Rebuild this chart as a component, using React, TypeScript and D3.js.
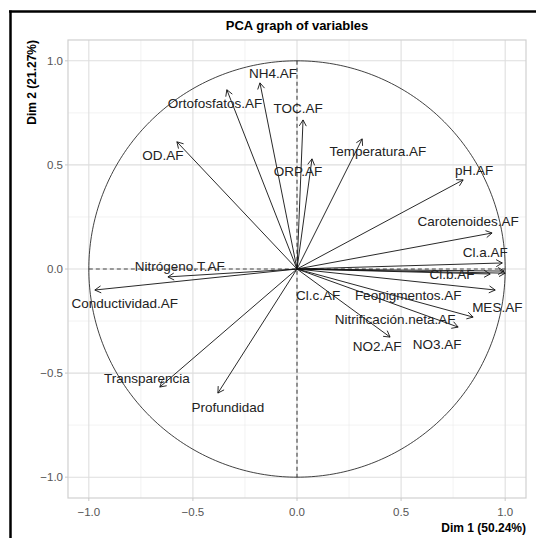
import React from 'react'
import * as d3 from 'd3'

// variable coordinates on Dim 1 / Dim 2
const variables = [
  'NH4.AF', 'Ortofosfatos.AF', 'TOC.AF', 'OD.AF', 'ORP.AF', 'Temperatura.AF',
  'pH.AF', 'Carotenoides.AF', 'Cl.a.AF', 'Cl.b.AF', 'Cl.c.AF', 'Feopigmentos.AF',
  'MES.AF', 'Nitrificación.neta.AF', 'NO2.AF', 'NO3.AF', 'Conductividad.AF',
  'Nitrógeno.T.AF', 'Transparencia', 'Profundidad',
]
const dim1 = [-0.178, -0.337, 0.029, -0.577, 0.072, 0.313, 0.798, 0.937, 0.986, 0.928, 0.995, 1.0, 0.952, 0.846, 0.447, 0.774, -0.971, -0.62, -0.659, -0.38]
const dim2 = [0.894, 0.861, 0.716, 0.611, 0.529, 0.625, 0.428, 0.173, 0.029, -0.024, -0.01, -0.02, -0.101, -0.231, -0.327, -0.279, -0.101, -0.038, -0.567, -0.596]
// repelled label centres
const labelX = [-0.115, -0.394, 0.005, -0.644, 0.005, 0.389, 0.851, 0.822, 0.904, 0.745, 0.101, 0.534, 0.962, 0.471, 0.385, 0.673, -0.827, -0.563, -0.721, -0.332]
const labelY = [0.942, 0.798, 0.774, 0.548, 0.471, 0.567, 0.476, 0.231, 0.082, -0.024, -0.125, -0.125, -0.183, -0.24, -0.37, -0.361, -0.163, 0.014, -0.524, -0.663]

const majorTicks = [-1.0, -0.5, 0.0, 0.5, 1.0]
const minorTicks = [-0.75, -0.25, 0.25, 0.75]

export default function App() {
  const W = 536
  const H = 538
  const left = 68, right = 526, top = 40, bottom = 498

  const x = d3.scaleLinear().domain([-1.1, 1.1]).range([left, right])
  const y = d3.scaleLinear().domain([-1.1, 1.1]).range([bottom, top])

  const circle = d3.line<number>()
    .x(a => x(Math.cos(a)))
    .y(a => y(Math.sin(a)))
  const angles = d3.range(0, 361).map(d => (d * Math.PI) / 180)

  const font = '"Liberation Sans", Arial, sans-serif'
  const ox = x(0), oy = y(0)

  const arrowHead = (tx: number, ty: number) => {
    const th = Math.atan2(ty - oy, tx - ox)
    const len = 7
    const a1 = th + Math.PI - Math.PI / 6
    const a2 = th + Math.PI + Math.PI / 6
    return `M${tx + len * Math.cos(a1)},${ty + len * Math.sin(a1)}L${tx},${ty}L${tx + len * Math.cos(a2)},${ty + len * Math.sin(a2)}`
  }

  return (
    <div style={{ position: 'absolute', left: 0, top: 0 }}>
      <svg width={W} height={H} style={{ display: 'block', background: 'white' }}>
        {/* screenshot frame */}
        <line x1={10.5} y1={10.5} x2={10.5} y2={H} stroke="black" strokeWidth={2.5} />
        <line x1={9} y1={11.5} x2={W} y2={11.5} stroke="black" strokeWidth={2.5} />

        {/* grid */}
        {minorTicks.map(t => (
          <g key={'mi' + t}>
            <line x1={x(t)} x2={x(t)} y1={top} y2={bottom} stroke="#ebebeb" strokeWidth={0.6} />
            <line x1={left} x2={right} y1={y(t)} y2={y(t)} stroke="#ebebeb" strokeWidth={0.6} />
          </g>
        ))}
        {majorTicks.map(t => (
          <g key={'ma' + t}>
            <line x1={x(t)} x2={x(t)} y1={top} y2={bottom} stroke="#dedede" strokeWidth={1.1} />
            <line x1={left} x2={right} y1={y(t)} y2={y(t)} stroke="#dedede" strokeWidth={1.1} />
          </g>
        ))}
        <rect x={left} y={top} width={right - left} height={bottom - top} fill="none" stroke="#d0d0d0" strokeWidth={1.2} />

        {/* axis ticks and labels */}
        {majorTicks.map(t => (
          <g key={'tk' + t} fontFamily={font} fontSize={11.5} fill="#555">
            <line x1={x(t)} x2={x(t)} y1={bottom} y2={bottom + 3} stroke="#c8c8c8" />
            <text x={x(t)} y={bottom + 18} textAnchor="middle">{d3.format('.1f')(t)}</text>
            <line x1={left - 3} x2={left} y1={y(t)} y2={y(t)} stroke="#c8c8c8" />
            <text x={left - 5} y={y(t) + 4} textAnchor="end">{d3.format('.1f')(t)}</text>
          </g>
        ))}

        {/* reference lines */}
        <line x1={x(-1)} x2={x(1)} y1={y(0)} y2={y(0)} stroke="#444" strokeWidth={1.1} strokeDasharray="4,3" />
        <line x1={x(0)} x2={x(0)} y1={y(1)} y2={y(-1)} stroke="#444" strokeWidth={1.1} strokeDasharray="4,3" />

        {/* correlation circle */}
        <path d={circle(angles) ?? ''} fill="none" stroke="#111" strokeWidth={0.8} />

        {/* arrows */}
        {variables.map((v, i) => {
          const tx = x(dim1[i]), ty = y(dim2[i])
          return (
            <g key={v} stroke="#111" strokeWidth={0.9} fill="none">
              <line x1={ox} y1={oy} x2={tx} y2={ty} />
              <path d={arrowHead(tx, ty)} />
            </g>
          )
        })}

        {/* labels */}
        {variables.map((v, i) => (
          <text key={'l' + v} x={x(labelX[i])} y={y(labelY[i]) + 5} textAnchor="middle"
            fontFamily={font} fontSize={13.5} fill="#222">{v}</text>
        ))}

        {/* titles */}
        <text x={(left + right) / 2} y={30} textAnchor="middle" fontFamily={font} fontSize={13} fontWeight="bold">PCA graph of variables</text>
        <text x={right} y={532} textAnchor="end" fontFamily={font} fontSize={12} fontWeight="bold">Dim 1 (50.24%)</text>
        <text transform={`translate(36,${top}) rotate(-90)`} textAnchor="end" fontFamily={font} fontSize={12} fontWeight="bold">Dim 2 (21.27%)</text>
      </svg>
    </div>
  )
}
